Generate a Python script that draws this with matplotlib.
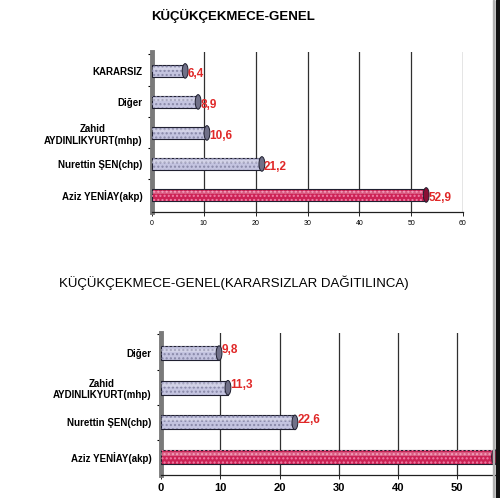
import matplotlib.pyplot as plt
from matplotlib.patches import Rectangle
from matplotlib.path import Path
from matplotlib.transforms import ScaledTranslation, Affine2D

plt.rcParams['font.family'] = ['Liberation Sans', 'DejaVu Sans']

# ust grafik verileri
genel_aday = ['Aziz YENİAY(akp)', 'Nurettin ŞEN(chp)', 'Zahid\nAYDINLIKYURT(mhp)', 'Diğer', 'KARARSIZ']
genel_oy = [52.9, 21.2, 10.6, 8.9, 6.4]
genel_etiket = ['52,9', '21,2', '10,6', '8,9', '6,4']
genel_ticks = [0, 10, 20, 30, 40, 50, 60]

# alt grafik verileri (kararsizlar dagitilinca)
dagitim_aday = ['Aziz YENİAY(akp)', 'Nurettin ŞEN(chp)', 'Zahid\nAYDINLIKYURT(mhp)', 'Diğer']
dagitim_oy = [56.3, 22.6, 11.3, 9.8]
dagitim_etiket = ['56,3', '22,6', '11,3', '9,8']
dagitim_ticks = [0, 10, 20, 30, 40, 50]

LILA = '#c4c4e0'
KIRMIZI = '#cc2255'
YAZI_KIRMIZI = '#e02828'

# silindir ucu icin dar elips
ELIPS = Path.unit_circle().transformed(Affine2D().scale(0.4, 1.0))


def ciz(ax, adaylar, oylar, etiketler, ticks, tick_size, tick_weight, lbl_dy):
    y = list(range(len(adaylar)))
    renkler = [KIRMIZI] + [LILA] * (len(adaylar) - 1)
    uc_renk = ['#8a1035'] + ['#707088'] * (len(adaylar) - 1)
    nokta = ['#f080a8'] + ['#8888a8'] * (len(adaylar) - 1)
    ax.barh(y, oylar, height=0.4, color=renkler, edgecolor='#202030', linewidth=0.8, zorder=3)
    ax.barh(y, oylar, height=0.4, color='none', edgecolor=nokta, hatch='....', linewidth=0, zorder=4)
    # silindir ust parlama
    ax.barh([v + 0.08 for v in y], oylar, height=0.1, color='white', alpha=0.25, linewidth=0, zorder=5)
    ax.scatter(oylar, y, marker=ELIPS, s=110, color=uc_renk, edgecolor='#202030', linewidth=0.7, zorder=6)

    fig = ax.figure
    for yi, v, t in zip(y, oylar, etiketler):
        ax.text(v + 0.4, yi, t, color=YAZI_KIRMIZI, fontsize=8.5, fontweight='bold',
                va='center', ha='left', zorder=7, clip_on=False,
                transform=ax.transData + ScaledTranslation(0, lbl_dy / 72, fig.dpi_scale_trans))

    ax.set_xlim(0, 60)
    ax.set_xticks(ticks)
    ax.set_xticklabels([str(v) for v in ticks], fontsize=tick_size, fontweight=tick_weight)
    off = ScaledTranslation(-4 / 72, 0, fig.dpi_scale_trans)
    for lbl in ax.get_xticklabels():
        lbl.set_transform(lbl.get_transform() + off)
    ax.set_yticks(y)
    ax.set_yticklabels(adaylar, fontsize=7, fontweight='bold')
    for lbl in ax.get_yticklabels():
        lbl.set_multialignment('center')
    ax.set_yticks([v + 0.5 for v in y[:-1]] + [y[-1] + 0.55], minor=True)
    ax.tick_params(axis='y', which='major', length=0, pad=7)
    ax.tick_params(axis='y', which='minor', length=3, width=0.8, direction='out')
    ax.tick_params(axis='x', length=3, width=0.6, pad=3)

    ax.grid(axis='x', color='#303030', linewidth=0.9, zorder=0)
    for s in ['top', 'right']:
        ax.spines[s].set_visible(False)
    ax.spines['left'].set_linewidth(3.5)
    ax.spines['left'].set_color('#7a7a7a')
    ax.spines['bottom'].set_linewidth(0.9)
    ax.spines['bottom'].set_color('#202020')


fig = plt.figure(figsize=(5.0, 4.98), dpi=100)

ax1 = fig.add_axes([0.304, 0.5743, 0.622, 0.3213])
ciz(ax1, genel_aday, genel_oy, genel_etiket, genel_ticks, 5, 'normal', -2)
ax1.set_ylim(-0.55, 4.61)
fig.text(0.466, 0.968, 'KÜÇÜKÇEKMECE-GENEL', ha='center', va='center',
         fontsize=9.5, fontweight='bold')

ax2 = fig.add_axes([0.322, 0.0462, 0.711, 0.2851])
ciz(ax2, dagitim_aday, dagitim_oy, dagitim_etiket, dagitim_ticks, 8, 'bold', 2)
ax2.set_ylim(-0.52, 3.58)
fig.text(0.468, 0.432, 'KÜÇÜKÇEKMECE-GENEL(KARARSIZLAR DAĞITILINCA)', ha='center', va='center',
         fontsize=9.5)

# sag kenar cercevesi
fig.patches.append(Rectangle((0.986, 0), 0.002, 1, transform=fig.transFigure,
                             color='#b0b0b0', zorder=20))
fig.patches.append(Rectangle((0.991, 0), 0.009, 1, transform=fig.transFigure,
                             color='#111111', zorder=20))

fig.savefig('out.png', dpi=100)
